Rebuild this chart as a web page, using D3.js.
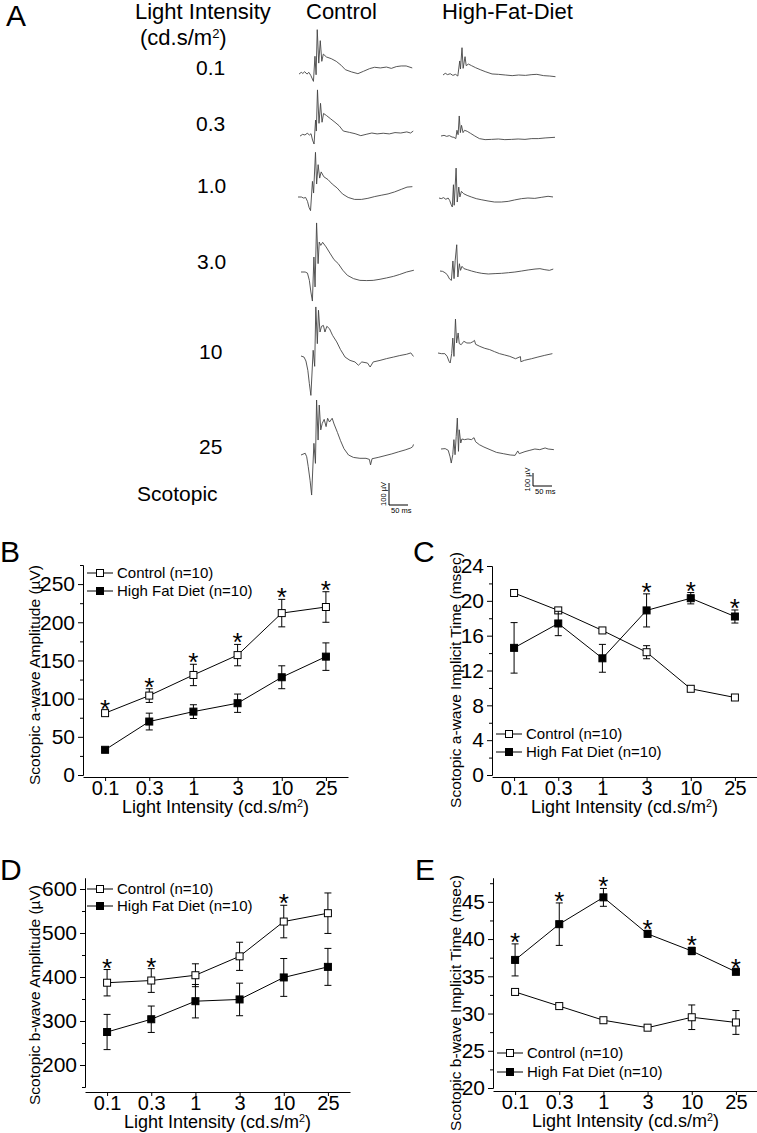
<!DOCTYPE html>
<html>
<head>
<meta charset="utf-8">
<script src="https://cdn.jsdelivr.net/npm/d3@7/dist/d3.min.js"></script>
<style>
  body { margin: 0; background: #fff; }
  text { font-family: Arial, "Liberation Sans", sans-serif; fill: #000; }
</style>
</head>
<body>
<svg id="fig" width="757" height="1133"></svg>
<script>
// ---------- data ----------
var intensities = ["0.1", "0.3", "1", "3", "10", "25"];
var traceLabels = ["0.1", "0.3", "1.0", "3.0", "10", "25"];

// ERG traces, [ms, uV]
var ctl01 = [[0,-5],[6,3],[10,-2],[15,6],[21,-5],[26,3],[31,-11],[38,-38],[42,76],[45,-8],[48,197],[52,45],[56,147],[60,53],[64,86],[72,73],[85,65],[98,53],[111,35],[122,15],[138,5],[155,-3],[170,8],[186,20],[199,26],[214,23],[230,27],[243,21],[256,29],[269,32],[282,32],[298,23]];
var ctl03 = [[0,-5],[7,3],[13,0],[19,8],[25,0],[29,6],[33,-23],[37,-41],[41,68],[43,18],[46,205],[50,53],[54,144],[58,58],[62,98],[70,88],[81,73],[92,58],[103,42],[114,18],[130,12],[145,6],[160,-3],[174,3],[189,9],[203,5],[219,8],[235,5],[250,11],[265,9],[281,14],[291,9],[298,18]];
var ctl1 = [[0,0],[9,0],[15,-5],[20,-2],[25,-20],[29,-47],[33,-62],[38,71],[41,18],[46,203],[49,59],[53,147],[57,86],[61,114],[68,92],[79,79],[90,59],[103,41],[117,14],[132,-2],[149,-11],[167,-11],[184,-6],[202,2],[219,8],[237,14],[254,23],[272,35],[287,45],[301,47]];
var ctl3 = [[0,0],[11,0],[17,-5],[22,-38],[26,-91],[30,-132],[34,68],[37,-68],[41,223],[45,38],[48,136],[52,121],[57,135],[66,114],[76,86],[87,56],[98,38],[110,8],[122,-15],[138,-30],[155,-38],[173,-39],[190,-38],[208,-33],[225,-27],[243,-20],[260,-11],[278,0],[297,8]];
var ctl10 = [[0,0],[8,-5],[13,-23],[18,-65],[22,-126],[26,-179],[32,26],[36,-47],[39,223],[43,56],[46,208],[50,109],[54,135],[59,139],[63,109],[68,135],[75,124],[83,94],[94,64],[104,29],[116,-5],[129,-20],[142,-27],[151,-42],[160,-27],[175,-32],[182,-50],[190,-27],[208,-20],[225,-12],[243,-5],[260,2],[278,8],[289,14],[296,-2]];
var ctl25 = [[0,0],[11,8],[15,-8],[19,-53],[24,-117],[28,-182],[34,53],[38,-38],[41,250],[45,68],[48,227],[52,114],[56,144],[61,162],[66,129],[70,167],[75,150],[82,167],[87,141],[96,102],[104,65],[113,29],[125,0],[138,-11],[155,-15],[171,-15],[180,-20],[183,-45],[187,-17],[203,-11],[221,-3],[239,5],[256,14],[274,23],[289,32],[294,38],[296,48]];

var hfd01 = [[0,0],[6,13],[12,3],[19,10],[26,-3],[33,5],[39,-8],[44,108],[46,46],[50,210],[53,51],[58,141],[61,72],[67,84],[75,72],[86,56],[98,41],[111,26],[129,8],[146,5],[164,0],[182,-5],[199,0],[217,-3],[234,3],[247,5],[265,-5],[281,-8],[296,-13]];
var hfd03 = [[0,0],[8,5],[15,-3],[22,3],[29,-8],[34,-10],[39,-20],[42,44],[45,10],[48,154],[51,26],[54,82],[58,26],[62,44],[69,36],[78,20],[89,0],[101,-20],[116,-28],[133,-26],[151,-23],[168,-28],[186,-26],[203,-23],[221,-26],[239,-20],[256,-20],[274,-15],[300,-10]];
var hfd1 = [[0,0],[6,-5],[12,3],[18,-10],[24,0],[28,-18],[32,-51],[35,-69],[38,102],[40,-56],[45,230],[48,-31],[52,84],[55,8],[59,51],[65,33],[74,20],[85,8],[98,-5],[111,-13],[129,-23],[146,-31],[164,-31],[182,-26],[199,-15],[217,-5],[234,0],[252,-3],[269,5],[287,13],[300,8]];
var hfd3 = [[0,0],[7,-3],[13,-13],[19,-28],[25,-61],[30,-72],[34,77],[37,-59],[40,82],[44,202],[47,-46],[51,56],[54,5],[58,36],[63,18],[72,10],[83,0],[96,-10],[110,-18],[127,-23],[145,-20],[162,-18],[180,-13],[197,-8],[215,0],[232,8],[250,15],[263,18],[276,10],[288,5],[298,15]];
var hfd10 = [[0,0],[9,-5],[18,-5],[24,-26],[29,-64],[32,-77],[36,-5],[39,115],[42,-26],[46,261],[49,77],[53,154],[56,72],[61,64],[68,90],[76,77],[85,77],[92,87],[96,97],[99,67],[110,51],[123,36],[136,26],[149,10],[162,-5],[175,-15],[189,-26],[204,-44],[217,-28],[218,-67],[228,-56],[246,-44],[263,-31],[281,-18],[301,-5]];
var hfd25 = [[0,0],[11,3],[19,-10],[24,-61],[27,-108],[31,-44],[34,72],[37,-44],[40,97],[43,238],[46,-18],[48,148],[52,46],[55,77],[62,72],[71,77],[80,72],[87,87],[91,56],[101,33],[113,15],[129,-5],[146,-26],[164,-36],[182,-46],[195,-49],[202,-15],[206,-36],[221,-20],[234,-10],[247,0],[260,-5],[274,8],[282,0],[297,-5]];

var ergControl = [ctl01, ctl03, ctl1, ctl3, ctl10, ctl25];
var ergHFD = [hfd01, hfd03, hfd1, hfd3, hfd10, hfd25];

// B: scotopic a-wave amplitude (uV)
var aAmpCtl = [81, 104, 131, 157, 212, 220];
var aAmpCtlErr = [3, 9, 14, 14, 18, 20];
var aAmpHfd = [33, 70, 83, 94, 128, 155];
var aAmpHfdErr = [3, 11, 9, 12, 15, 18];
var aAmpStars = [1, 1, 1, 1, 1, 1];

// C: scotopic a-wave implicit time (msec)
var aTimeCtl = [20.9, 18.9, 16.6, 14.1, 9.9, 8.9];
var aTimeCtlErr = [0.2, 0.3, 0.2, 0.75, 0.3, 0.3];
var aTimeHfd = [14.6, 17.4, 13.4, 18.9, 20.3, 18.2];
var aTimeHfdErr = [2.9, 1.4, 1.6, 1.9, 0.65, 0.75];
var aTimeStars = [0, 0, 0, 1, 1, 1];

// D: scotopic b-wave amplitude (uV)
var bAmpCtl = [387, 392, 404, 447, 526, 545];
var bAmpCtlErr = [30, 27, 26, 32, 37, 46];
var bAmpHfd = [275, 304, 345, 349, 399, 423];
var bAmpHfdErr = [40, 30, 38, 37, 43, 42];
var bAmpStars = [1, 1, 0, 0, 1, 0];

// E: scotopic b-wave implicit time (msec)
var bTimeCtl = [32.9, 31.0, 29.1, 28.1, 29.5, 28.8];
var bTimeCtlErr = [0.2, 0.2, 0.2, 0.2, 1.65, 1.6];
var bTimeHfd = [37.2, 42.0, 45.6, 40.7, 38.4, 35.6];
var bTimeHfdErr = [2.15, 2.85, 1.2, 0.4, 0.5, 0.2];
var bTimeStars = [1, 1, 1, 1, 1, 1];

// ---------- drawing ----------
var svg = d3.select("#fig");

function letter(txt, x, y) {
    svg.append("text").attr("x", x).attr("y", y)
        .style("font-size", "30px").text(txt);
}

function intensityTitle(g, x, y, size, anchor) {
    var t = g.append("text").attr("x", x).attr("y", y)
        .attr("text-anchor", anchor || "start")
        .style("font-size", size + "px");
    t.append("tspan").text("Light Intensity (cd.s/m");
    t.append("tspan").attr("baseline-shift", "super").style("font-size", (size * 0.6) + "px").text("2");
    t.append("tspan").text(")");
}

// ----- panel A -----
letter("A", 6, 26);

svg.append("text").attr("x", 135).attr("y", 19).style("font-size", "22px").text("Light Intensity");
var unitT = svg.append("text").attr("x", 140).attr("y", 45).style("font-size", "22px");
unitT.append("tspan").text("(cd.s/m");
unitT.append("tspan").attr("baseline-shift", "super").style("font-size", "13px").text("2");
unitT.append("tspan").text(")");
svg.append("text").attr("x", 306).attr("y", 19).style("font-size", "22px").text("Control");
svg.append("text").attr("x", 442).attr("y", 19).style("font-size", "22px").text("High-Fat-Diet");

var labelY = [75, 131, 193, 269, 359, 454];
var labelX = [196, 196, 197, 197, 199, 199];
svg.selectAll(".intLabel").data(traceLabels).enter().append("text")
    .attr("class", "intLabel")
    .attr("x", function(d, i) { return labelX[i]; })
    .attr("y", function(d, i) { return labelY[i]; })
    .style("font-size", "21px")
    .text(function(d) { return d; });
svg.append("text").attr("x", 137).attr("y", 501).style("font-size", "21px").text("Scotopic");

// columns of traces: where each trace starts and its baseline
var columns = [
    { traces: ergControl, x0: [299, 300, 298, 301, 301, 301], base: [73, 135, 197, 272, 356, 455],
      pxPer100uV: 22, bar: { x: 389, y: 505 } },
    { traces: ergHFD, x0: [443, 441, 439, 440, 438, 441], base: [75, 136, 198, 271, 353, 449],
      pxPer100uV: 13, bar: { x: 533, y: 486 } }
];
var pxPerMs = 0.38;

columns.forEach(function(col) {
    col.traces.forEach(function(tr, i) {
        var xs = d3.scaleLinear().domain([0, 300]).range([col.x0[i], col.x0[i] + 300 * pxPerMs]);
        var ys = d3.scaleLinear().domain([0, 100]).range([col.base[i], col.base[i] - col.pxPer100uV]);
        var line = d3.line().x(function(d) { return xs(d[0]); }).y(function(d) { return ys(d[1]); });
        svg.append("path").datum(tr).attr("d", line)
            .attr("fill", "none").attr("stroke", "#444").attr("stroke-width", 0.9)
            .attr("stroke-linejoin", "round");
    });
    // scale bar 100 uV / 50 ms
    var bx = col.bar.x, by = col.bar.y;
    var bs = d3.scaleLinear().domain([0, 100]).range([by, by - col.pxPer100uV]);
    var ts = d3.scaleLinear().domain([0, 50]).range([bx, bx + 50 * pxPerMs]);
    svg.append("path")
        .attr("d", "M" + bx + "," + bs(100) + "L" + bx + "," + by + "L" + ts(50) + "," + by)
        .attr("fill", "none").attr("stroke", "#000").attr("stroke-width", 1);
    svg.append("text").attr("transform", "translate(" + (bx - 3) + "," + (by - col.pxPer100uV / 2) + ") rotate(-90)")
        .attr("text-anchor", "middle").style("font-size", "7.5px").text("100 \u00b5V");
    svg.append("text").attr("x", bx + 2).attr("y", by + 8).style("font-size", "7.5px").text("50 ms");
});

// ----- panels B..E -----
function drawPanel(p) {
    var g = svg.append("g");
    var x = d3.scalePoint().domain(intensities).range([p.x0, p.x1]).padding(0.5);
    var y = d3.scaleLinear().domain(p.domain).range([p.yBottom, p.yTop]);

    // y axis with minor ticks
    g.append("g").attr("transform", "translate(" + p.x0 + ",0)")
        .call(d3.axisLeft(y).tickValues(p.minor).tickSize(3).tickSizeOuter(0).tickFormat(""));
    var ya = g.append("g").attr("transform", "translate(" + p.x0 + ",0)")
        .call(d3.axisLeft(y).tickValues(p.major).tickSize(5).tickSizeOuter(0).tickPadding(3));
    ya.selectAll("text").style("font-size", "21px").attr("font-family", null);

    var xa = g.append("g").attr("transform", "translate(0," + p.xAxisY + ")")
        .call(d3.axisBottom(x).tickSize(4).tickSizeOuter(0).tickPadding(0));
    xa.selectAll("text").style("font-size", "20px").attr("font-family", null);
    g.selectAll(".domain, .tick line").attr("stroke", "#000");

    intensityTitle(g, (p.x0 + p.x1) / 2, p.xAxisY + 36, 18, "middle");
    g.append("text")
        .attr("transform", "translate(" + p.yTitleX + "," + p.yTitleY + ") rotate(-90)")
        .attr("text-anchor", "middle").attr("dy", "0.35em")
        .style("font-size", "15.5px").text(p.yTitle);

    var series = [
        { v: p.ctl, e: p.ctlErr, fill: "#fff" },
        { v: p.hfd, e: p.hfdErr, fill: "#000" }
    ];
    var line = d3.line()
        .x(function(d, i) { return x(intensities[i]); })
        .y(function(d) { return y(d); });

    series.forEach(function(s) {
        g.append("path").datum(s.v).attr("d", line)
            .attr("fill", "none").attr("stroke", "#000").attr("stroke-width", 1);
        var eb = g.selectAll(null).data(s.v).enter().append("g");
        eb.append("path")
            .attr("d", function(d, i) {
                var cx = x(intensities[i]), t = y(d + s.e[i]), b = y(d - s.e[i]);
                return "M" + cx + "," + t + "V" + b +
                       "M" + (cx - 3.5) + "," + t + "H" + (cx + 3.5) +
                       "M" + (cx - 3.5) + "," + b + "H" + (cx + 3.5);
            })
            .attr("fill", "none").attr("stroke", "#000").attr("stroke-width", 1);
        eb.append("rect")
            .attr("x", function(d, i) { return x(intensities[i]) - 3.5; })
            .attr("y", function(d) { return y(d) - 3.5; })
            .attr("width", 7).attr("height", 7)
            .attr("fill", s.fill).attr("stroke", "#000").attr("stroke-width", 1);
    });

    // significance stars above the highest error bar
    p.stars.forEach(function(st, i) {
        if (!st) return;
        var top = Math.max(p.ctl[i] + p.ctlErr[i], p.hfd[i] + p.hfdErr[i]);
        g.append("text").attr("x", x(intensities[i])).attr("y", y(top) + 7)
            .attr("text-anchor", "middle").style("font-size", "26px").text("*");
    });

    // legend
    var names = ["Control (n=10)", "High Fat Diet (n=10)"];
    names.forEach(function(n, i) {
        var ly = p.legY + i * p.legGap;
        g.append("line").attr("x1", p.legX).attr("x2", p.legX + 26).attr("y1", ly).attr("y2", ly)
            .attr("stroke", "#000").attr("stroke-width", 1);
        g.append("rect").attr("x", p.legX + 13 - 3.5).attr("y", ly - 3.5).attr("width", 7).attr("height", 7)
            .attr("fill", series[i].fill).attr("stroke", "#000");
        g.append("text").attr("x", p.legX + 30).attr("y", ly).attr("dy", "0.35em")
            .style("font-size", "15px").text(n);
    });
}

letter("B", 0, 562);
drawPanel({
    x0: 83, x1: 348, yTop: 565, yBottom: 775, xAxisY: 777,
    domain: [0, 275], major: d3.range(0, 251, 50), minor: d3.range(25, 276, 50),
    ctl: aAmpCtl, ctlErr: aAmpCtlErr, hfd: aAmpHfd, hfdErr: aAmpHfdErr, stars: aAmpStars,
    yTitle: "Scotopic a-wave Amplitude (\u00b5V)", yTitleX: 35, yTitleY: 675,
    legX: 87, legY: 573, legGap: 18
});

letter("C", 413, 562);
drawPanel({
    x0: 492, x1: 757, yTop: 566, yBottom: 775, xAxisY: 777,
    domain: [0, 24], major: d3.range(0, 25, 4), minor: d3.range(2, 24, 4),
    ctl: aTimeCtl, ctlErr: aTimeCtlErr, hfd: aTimeHfd, hfdErr: aTimeHfdErr, stars: aTimeStars,
    yTitle: "Scotopic a-wave Implicit Time (msec)", yTitleX: 456, yTitleY: 680,
    legX: 496, legY: 734, legGap: 18
});

letter("D", 0, 880);
drawPanel({
    x0: 85, x1: 350, yTop: 878, yBottom: 1087, xAxisY: 1092,
    domain: [150, 625], major: d3.range(200, 601, 100), minor: d3.range(150, 626, 100),
    ctl: bAmpCtl, ctlErr: bAmpCtlErr, hfd: bAmpHfd, hfdErr: bAmpHfdErr, stars: bAmpStars,
    yTitle: "Scotopic b-wave Amplitude (\u00b5V)", yTitleX: 35, yTitleY: 995,
    legX: 87, legY: 889, legGap: 17
});

letter("E", 415, 880);
drawPanel({
    x0: 493, x1: 758, yTop: 878, yBottom: 1088, xAxisY: 1091,
    domain: [20, 48.2], major: d3.range(20, 46, 5), minor: d3.range(22.5, 48, 5),
    ctl: bTimeCtl, ctlErr: bTimeCtlErr, hfd: bTimeHfd, hfdErr: bTimeHfdErr, stars: bTimeStars,
    yTitle: "Scotopic b-wave Implicit Time (msec)", yTitleX: 456, yTitleY: 1003,
    legX: 497, legY: 1053, legGap: 19
});
</script>
</body>
</html>
